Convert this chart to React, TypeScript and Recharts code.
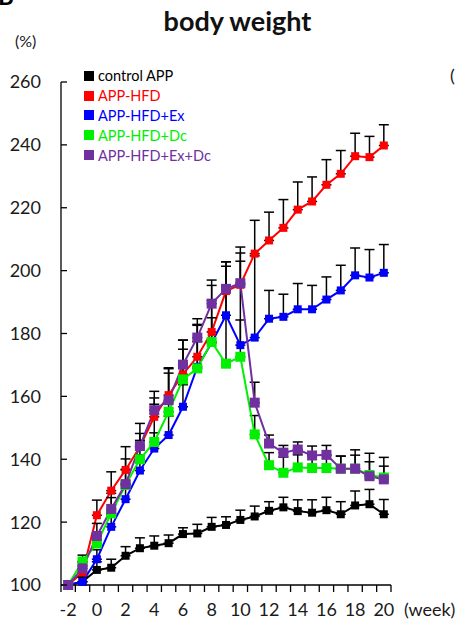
import { LineChart, Line, XAxis, YAxis, ErrorBar, Legend } from 'recharts'

const WEEKS = [-2, -1, 0, 1, 2, 3, 4, 5, 6, 7, 8, 9, 10, 11, 12, 13, 14, 15, 16, 17, 18, 19, 20]

// mean body weight (% of week -2) and upper SD
const CONTROL_APP = [100, 101.1, 104.8, 105.5, 109.3, 111.7, 112.5, 113.3, 116.2, 116.4, 118.5, 119.1, 120.7, 121.8, 123.6, 124.7, 123.5, 123.0, 123.8, 122.5, 125.3, 125.7, 122.5]
const CONTROL_APP_SD = [0, 1.5, 2.6, 2.7, 2.9, 3.3, 3.1, 2.6, 2.0, 2.9, 3.0, 2.6, 3.1, 3.3, 2.9, 3.2, 3.6, 4.1, 4.1, 4.0, 4.6, 4.7, 4.7]

const APP_HFD = [100, 104, 122.2, 130.0, 136.6, 144.0, 153.5, 160.4, 167, 172.6, 180.5, 193.5, 195.5, 205.4, 209.6, 213.6, 219.4, 222.0, 227.3, 230.8, 236.4, 236.1, 239.8]
const APP_HFD_SD = [0, 2, 4.8, 6, 7.4, 7.4, 6, 7, 8, 10, 10, 9.3, 12, 10.6, 9, 9, 8.8, 7.8, 8, 7.4, 7.3, 6.6, 6.6]

const APP_HFD_EX = [100, 101, 108.2, 118.5, 127.3, 136.4, 143.4, 147.7, 156.7, 169.4, 177.0, 185.8, 176.3, 178.7, 184.7, 185.3, 187.7, 187.7, 190.8, 193.7, 198.5, 197.8, 199.3]
const APP_HFD_EX_SD = [0, 1.5, 3, 4, 5, 5, 5, 6, 7, 8, 8, 8, 8, 26, 9, 7.2, 8.2, 7.6, 7.2, 8, 8.7, 8.9, 9]

const APP_HFD_DC = [100, 107.5, 113.2, 122.8, 131.8, 140.0, 145.5, 155.1, 165.4, 168.9, 177.3, 170.4, 172.6, 147.9, 138.1, 135.7, 137.4, 137.2, 137.2, 137, 137, 135, 134.2]
const APP_HFD_DC_SD = [0, 2, 3, 5, 5, 6, 12, 14, 12.5, 14, 18, 31, 33, 6, 4, 5, 4, 4, 4, 4, 4.3, 4.2, 3.6]

const APP_HFD_EX_DC = [100, 105.3, 115.6, 124.2, 132.1, 144.2, 155.6, 158.8, 170.1, 178.7, 189.5, 194.2, 196.0, 158.0, 145.0, 142.1, 143.1, 141.2, 141.4, 137.0, 137.0, 134.6, 133.6]
const APP_HFD_EX_DC_SD = [0, 2, 4, 5, 8, 4, 6, 10, 7.8, 6, 7.5, 8.6, 7, 6.5, 2.7, 2.3, 2.4, 3, 3, 4, 6, 7.3, 7]

const Y_TICKS = [100, 120, 140, 160, 180, 200, 220, 240, 260]
const X_LABELS = [-2, 0, 2, 4, 6, 8, 10, 12, 14, 16, 18, 20]

const SERIES = [
  { key: 'control', name: 'control APP', color: '#000000', size: 8, values: CONTROL_APP, sd: CONTROL_APP_SD },
  { key: 'hfd', name: 'APP-HFD', color: '#ff0000', size: 8, values: APP_HFD, sd: APP_HFD_SD },
  { key: 'hfdEx', name: 'APP-HFD+Ex', color: '#0000ff', size: 8, values: APP_HFD_EX, sd: APP_HFD_EX_SD },
  { key: 'hfdDc', name: 'APP-HFD+Dc', color: '#00f000', size: 10, values: APP_HFD_DC, sd: APP_HFD_DC_SD },
  { key: 'hfdExDc', name: 'APP-HFD+Ex+Dc', color: '#7030a0', size: 10, values: APP_HFD_EX_DC, sd: APP_HFD_EX_DC_SD },
]

const data = WEEKS.map((week, i) => {
  const row: Record<string, any> = { week }
  SERIES.forEach((s) => {
    row[s.key] = s.values[i]
    row[s.key + 'Sd'] = [0, s.sd[i]]
  })
  return row
})

// tick marks sit between weeks (excel category style), labels on even weeks
const X_TICKS = [...WEEKS.map((w) => w - 0.5), WEEKS[WEEKS.length - 1] + 0.5, ...X_LABELS].sort((a, b) => a - b)

const FONT = 'Lato, "Open Sans", sans-serif'

function WeekTick({ x, y, payload }: any) {
  const v = payload.value
  if (!Number.isInteger(v)) {
    return <line x1={x} y1={y} x2={x} y2={y + 7} stroke="#000" strokeWidth={1.3} />
  }
  return (
    <text x={x} y={y + 31} textAnchor="middle" fontSize={18} fontFamily={FONT} fill="#1a1a1a">
      {v}
    </text>
  )
}

function PercentTick({ x, y, payload }: any) {
  return (
    <g>
      <line x1={x} y1={y} x2={x + 6} y2={y} stroke="#000" strokeWidth={1.3} />
      <text x={x - 20} y={y} dy="0.36em" textAnchor="end" fontSize={18} fontFamily={FONT} fill="#1a1a1a">
        {payload.value}
      </text>
    </g>
  )
}

function squareDot(color: string, size: number) {
  return (p: any) => (
    <rect key={`d-${p.index}`} x={p.cx - size / 2} y={p.cy - size / 2} width={size} height={size} fill={color} />
  )
}

function LegendBox() {
  return (
    <div style={{ fontFamily: FONT, fontSize: 14.5 }}>
      {SERIES.map((s) => (
        <div key={s.key} style={{ display: 'flex', alignItems: 'center', height: 19.8, color: s.color }}>
          <span style={{ display: 'inline-block', width: 10, height: 10, background: s.color, marginRight: 4 }} />
          {s.name}
        </div>
      ))}
    </div>
  )
}

export default function App() {
  return (
    <div style={{ position: 'absolute', left: 0, top: 0, width: 457, height: 625, background: '#fff', fontFamily: FONT }}>
      <div style={{ position: 'absolute', left: -2, top: -19, fontSize: 24, fontWeight: 700 }}>B</div>
      <div
        style={{
          position: 'absolute',
          left: 0,
          width: 475,
          top: 4,
          textAlign: 'center',
          fontSize: 27,
          fontWeight: 700,
          color: '#111',
        }}
      >
        body weight
      </div>
      <div style={{ position: 'absolute', left: 15, top: 31, fontSize: 16, color: '#1a1a1a' }}>(%)</div>
      <div style={{ position: 'absolute', left: 404, top: 598, fontSize: 18, color: '#1a1a1a' }}>(week)</div>
      <div style={{ position: 'absolute', left: 450, top: 64, fontSize: 18, color: '#1a1a1a' }}>(</div>
      <LineChart width={457} height={625} data={data} margin={{ top: 82, right: 66, bottom: 0, left: 0 }}>
        <XAxis
          dataKey="week"
          type="number"
          domain={[-2.5, 20.5]}
          ticks={X_TICKS}
          interval={0}
          height={40}
          tickSize={0}
          tickMargin={0}
          tickLine={false}
          tick={<WeekTick />}
          axisLine={{ stroke: '#000', strokeWidth: 1.3 }}
        />
        <YAxis
          type="number"
          domain={[100, 260]}
          ticks={Y_TICKS}
          interval={0}
          width={61}
          tickSize={0}
          tickMargin={0}
          tickLine={false}
          tick={<PercentTick />}
          axisLine={{ stroke: '#000', strokeWidth: 1.3 }}
        />
        <Legend
          layout="vertical"
          align="center"
          verticalAlign="middle"
          content={<LegendBox />}
          wrapperStyle={{ left: 84, top: 66, width: 'auto', height: 'auto' }}
        />
        {SERIES.map((s) => (
          <Line
            key={s.key}
            dataKey={s.key}
            name={s.name}
            stroke={s.color}
            strokeWidth={2}
            dot={squareDot(s.color, s.size)}
            activeDot={false}
            isAnimationActive={false}
          >
            <ErrorBar dataKey={s.key + 'Sd'} direction="y" width={5} stroke="#000" strokeWidth={1.5} isAnimationActive={false} />
          </Line>
        ))}
      </LineChart>
    </div>
  )
}
